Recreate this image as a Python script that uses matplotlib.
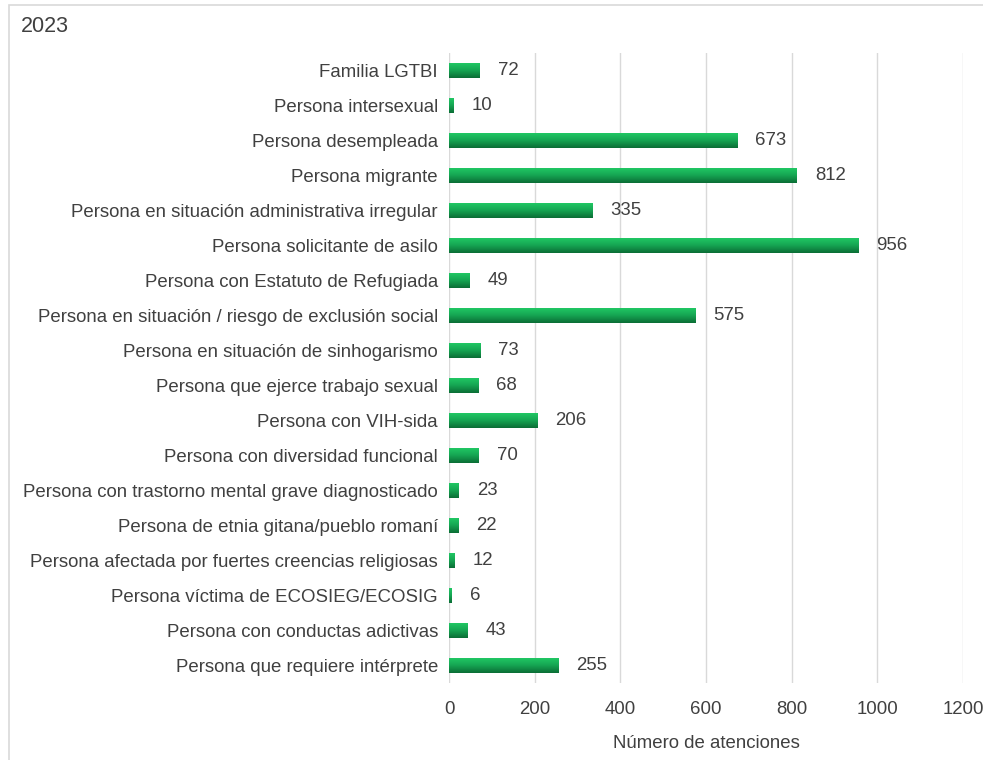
import numpy as np
import matplotlib.pyplot as plt
from matplotlib.colors import LinearSegmentedColormap
from matplotlib.patches import Rectangle

plt.rcParams['font.family'] = ['Liberation Sans', 'DejaVu Sans']

categories = [
    "Familia LGTBI",
    "Persona intersexual",
    "Persona desempleada",
    "Persona migrante",
    "Persona en situación administrativa irregular",
    "Persona solicitante de asilo",
    "Persona con Estatuto de Refugiada",
    "Persona en situación / riesgo de exclusión social",
    "Persona en situación de sinhogarismo",
    "Persona que ejerce trabajo sexual",
    "Persona con VIH-sida",
    "Persona con diversidad funcional",
    "Persona con trastorno mental grave diagnosticado",
    "Persona de etnia gitana/pueblo romaní",
    "Persona afectada por fuertes creencias religiosas",
    "Persona víctima de ECOSIEG/ECOSIG",
    "Persona con conductas adictivas",
    "Persona que requiere intérprete",
]
values = [72, 10, 673, 812, 335, 956, 49, 575, 73, 68, 206, 70, 23, 22, 12, 6, 43, 255]
xticks = [0, 200, 400, 600, 800, 1000, 1200]

text_col = '#404040'
fs = 13.4
grad = LinearSegmentedColormap.from_list('g', ['#22cc66', '#16a653', '#0b6e36'])

fig = plt.figure(figsize=(9.83, 7.6), dpi=100)
ax = fig.add_axes([0.4568, 0.1013, 0.5229, 0.829])

y = np.arange(len(categories))
bars = ax.barh(y, values, height=0.43, color='none', edgecolor='none', zorder=3)
ax.set_ylim(len(categories) - 0.5, -0.5)
ax.set_xlim(0, 1200)

g = np.linspace(0, 1, 64).reshape(-1, 1)
for b in bars:
    x0, y0 = b.get_x(), b.get_y()
    w, h = b.get_width(), b.get_height()
    im = ax.imshow(g, cmap=grad, aspect='auto', extent=(x0, x0 + w, y0 + h, y0),
                   origin='upper', zorder=3)
    im.set_clip_path(b)

for yi, v in zip(y, values):
    ax.annotate(str(v), (v, yi), xytext=(13, 0), textcoords='offset points',
                va='center', ha='left', fontsize=fs, color=text_col)

ax.set_yticks(y)
ax.set_yticklabels(categories, fontsize=fs, color=text_col)
ax.set_xticks(xticks)
ax.set_xticklabels([str(t) for t in xticks], fontsize=fs, color=text_col)
ax.tick_params(axis='both', length=0)
ax.tick_params(axis='y', pad=8)
ax.tick_params(axis='x', pad=13)
ax.grid(axis='x', color='#d9d9d9', linewidth=1, zorder=0)
ax.set_axisbelow(True)
for s in ax.spines.values():
    s.set_visible(False)
ax.set_xlabel('Número de atenciones', fontsize=fs, color=text_col, labelpad=12)

fig.text(0.021, 0.965, '2023', fontsize=15.5, color=text_col, va='center', ha='left')
fig.patches.append(Rectangle((0.009, -0.01), 1.0, 1.004, transform=fig.transFigure,
                             fill=False, edgecolor='#d9d9d9', linewidth=1.2))

fig.savefig('out.png', dpi=100)
